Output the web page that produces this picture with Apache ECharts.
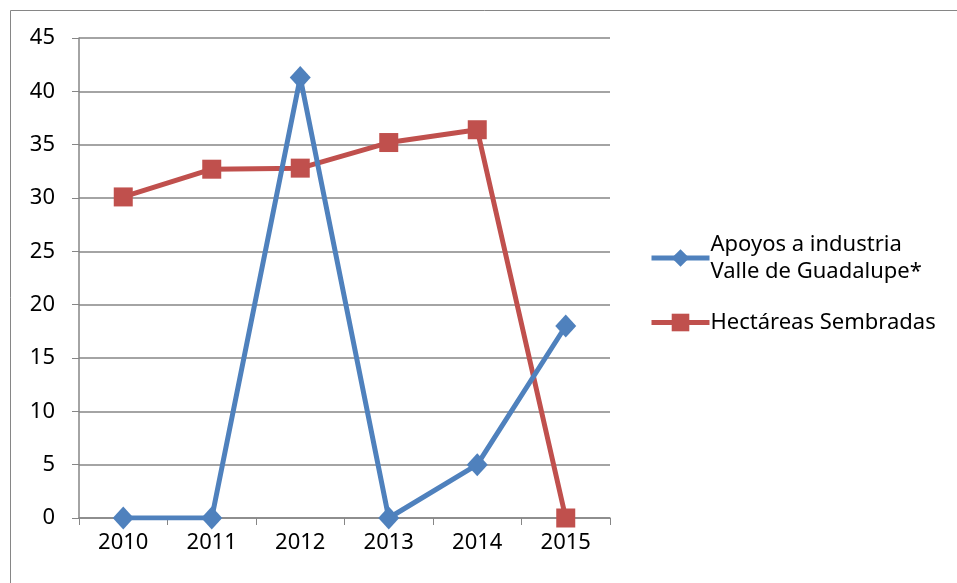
<!DOCTYPE html>
<html>
<head>
<meta charset="utf-8">
<script src="https://cdn.jsdelivr.net/npm/echarts@6/dist/echarts.min.js"></script>
<style>
  html, body { margin: 0; padding: 0; background: #fff; }
  #chart { width: 957px; height: 583px; }
</style>
</head>
<body>
<div id="chart"></div>
<script>
const years = ["2010", "2011", "2012", "2013", "2014", "2015"];
const apoyos = [0, 0, 41.3, 0, 5, 18];
const hectareas = [30.1, 32.7, 32.8, 35.2, 36.4, 0];
const yTicks = { min: 0, max: 45, interval: 5 };

const chart = echarts.init(document.getElementById("chart"));
const font = "Noto Sans";

chart.setOption({
    animation: false,
    backgroundColor: "#fff",
    textStyle: { fontFamily: font, color: "#000" },
    graphic: [{
        type: "rect",
        shape: { x: 10.5, y: 10.5, width: 1000, height: 700 },
        style: { fill: null, stroke: "#868686", lineWidth: 1 },
        silent: true
    }],
    grid: { left: 79, right: 347, top: 38, bottom: 65, containLabel: false },
    legend: {
        orient: "vertical",
        left: 644,
        top: 226,
        itemWidth: 58,
        itemHeight: 22,
        itemGap: 24,
        lineStyle: { width: 5 },
        textStyle: { fontFamily: font, fontSize: 22, color: "#000", lineHeight: 27, padding: [0, 0, 0, -4] },
        formatter(name) {
            return name === "Apoyos a industria Valle de Guadalupe*"
                ? "Apoyos a industria\nValle de Guadalupe*"
                : name;
        },
        data: ["Apoyos a industria Valle de Guadalupe*", "Hectáreas Sembradas"]
    },
    xAxis: {
        type: "category",
        data: years,
        boundaryGap: true,
        axisLine: { lineStyle: { color: "#868686", width: 1.5 } },
        axisTick: { show: true, length: 7, lineStyle: { color: "#868686" } },
        axisLabel: { fontSize: 22, color: "#000", margin: 14, fontFamily: font }
    },
    yAxis: {
        type: "value",
        min: yTicks.min,
        max: yTicks.max,
        interval: yTicks.interval,
        axisLine: { show: true, lineStyle: { color: "#868686", width: 1.5 } },
        axisTick: { show: true, length: 7, lineStyle: { color: "#868686" } },
        axisLabel: { fontSize: 22, color: "#000", margin: 24, fontFamily: font },
        splitLine: { lineStyle: { color: "#868686", width: 1.5 } }
    },
    series: [
        {
            name: "Apoyos a industria Valle de Guadalupe*",
            type: "line",
            data: apoyos,
            symbol: "diamond",
            symbolSize: [21, 23],
            color: "#4F81BD",
            lineStyle: { width: 5, color: "#4F81BD" },
            itemStyle: { color: "#4F81BD" },
            z: 3
        },
        {
            name: "Hectáreas Sembradas",
            type: "line",
            data: hectareas,
            symbol: "rect",
            symbolSize: 19,
            color: "#C0504D",
            lineStyle: { width: 5, color: "#C0504D" },
            itemStyle: { color: "#C0504D" },
            z: 2
        }
    ]
});
</script>
</body>
</html>
